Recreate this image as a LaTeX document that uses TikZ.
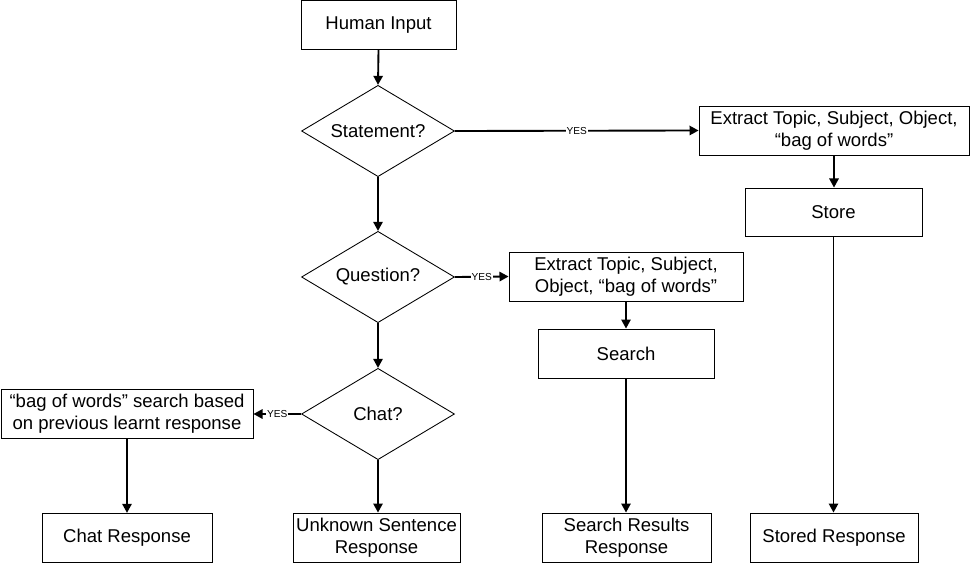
\documentclass[tikz,border=0pt]{standalone}
\usepackage{fontspec}
\setmainfont{Liberation Sans}
\usetikzlibrary{shapes.geometric,arrows.meta}
\begin{document}
\begin{tikzpicture}[x=0.75pt,y=-0.75pt,
  every node/.style={font=\fontsize{13.9}{16.4}\selectfont},
  box/.style={draw=black, line width=0.65pt, fill=white, align=center, inner sep=0pt},
  dia/.style={draw=black, line width=0.65pt, fill=white, shape=diamond, inner sep=0pt,
     minimum width=114.75pt, minimum height=68.5pt, aspect=1.66},
  conn/.style={line width=1.4pt, -{Triangle[length=6.8pt,width=7pt]}},
  yes/.style={fill=white, inner sep=0.8pt, font=\fontsize{7.6}{8}\selectfont}]
\useasboundingbox (0,0) rectangle (971,563);
% boxes
\node[box, minimum width=116.25pt, minimum height=36.4pt] (human) at (378.5,24.8) {Human Input};
\node[dia] (stmt) at (378,131) {Statement?};
\node[box, minimum width=202.5pt, minimum height=36.75pt] (ext1) at (834,130.5) {Extract Topic, Subject, Object,\\``bag of words''};
\node[box, minimum width=132.75pt, minimum height=36pt] (store) at (833.5,212) {Store};
\node[box, minimum width=126pt, minimum height=36.75pt] (stored) at (834,537.5) {Stored Response};
\node[dia] (quest) at (378,277) {Question?};
\node[box, minimum width=175.5pt, minimum height=36.75pt] (ext2) at (626,276.5) {Extract Topic, Subject,\\Object, ``bag of words''};
\node[box, minimum width=132pt, minimum height=36.75pt] (search) at (626,353.5) {Search};
\node[box, minimum width=126.75pt, minimum height=36.75pt] (results) at (626.5,537.5) {Search Results\\Response};
\node[dia] (chat) at (378,414) {Chat?};
\node[box, minimum width=189pt, minimum height=37pt] (bag) at (127,414) {``bag of words'' search based\\on previous learnt response};
\node[box, minimum width=127.5pt, minimum height=36.75pt] (chatresp) at (127,537.8) {Chat Response};
\node[box, minimum width=125.25pt, minimum height=36.75pt] (unknown) at (376.5,537.5) {Unknown Sentence\\Response};
% connectors
\draw[conn] (human.south) -- (stmt.north);
\draw[conn] (stmt.east) -- node[yes] {YES} (ext1.west);
\draw[conn] (stmt.south) -- (quest.north);
\draw[conn] (ext1.south) -- (ext1.south |- store.north);
\draw[conn] (store.south) -- (store.south |- stored.north);
\draw[conn] (quest.east) -- node[yes] {YES} (ext2.west);
\draw[conn] (ext2.south) -- (search.north);
\draw[conn] (search.south) -- (search.south |- results.north);
\draw[conn] (quest.south) -- (chat.north);
\draw[conn] (chat.west) -- node[yes] {YES} (bag.east);
\draw[conn] (bag.south) -- (chatresp.north);
\draw[conn] (chat.south) -- (chat.south |- unknown.north);
\end{tikzpicture}
\end{document}
